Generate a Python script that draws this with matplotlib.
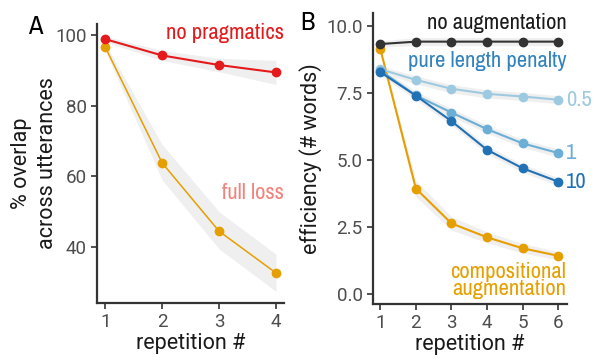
import numpy as np
import matplotlib.pyplot as plt
from matplotlib import font_manager

# look for a condensed face for the in-plot labels, else Roboto
cond = 'Roboto'
for f in font_manager.fontManager.ttflist:
    if ('Condensed' in f.name or 'Narrow' in f.name) and f.style == 'normal':
        cond = f.name
        break

''' data, panel A '''
repA = [1, 2, 3, 4]
no_prag = [98.8, 94.2, 91.5, 89.4]
no_prag_lo = [98.0, 92.8, 89.6, 86.0]
no_prag_hi = [99.6, 95.6, 93.4, 92.8]
full_loss = [96.5, 63.8, 44.5, 32.7]
full_loss_lo = [95.5, 59.0, 39.5, 27.5]
full_loss_hi = [97.5, 69.0, 50.0, 38.0]

''' data, panel B '''
repB = [1, 2, 3, 4, 5, 6]
no_aug = [9.34, 9.43, 9.43, 9.43, 9.43, 9.43]
pen_05 = [8.40, 8.00, 7.67, 7.48, 7.38, 7.26]
pen_1 = [8.35, 7.42, 6.78, 6.16, 5.63, 5.27]
pen_10 = [8.29, 7.41, 6.46, 5.39, 4.70, 4.20]
comp_aug = [9.15, 3.94, 2.64, 2.12, 1.71, 1.43]
band_B = [0.12, 0.15, 0.15, 0.15, 0.15, 0.15]
band_comp = [0.1, 0.3, 0.25, 0.2, 0.18, 0.15]

tick_col = '#4d4d4d'
axis_col = '#333333'
band_col = '#efefef'
ann = 16.3

plt.rcParams['font.family'] = 'Roboto'
fig = plt.figure(figsize=(5.94, 3.58), dpi=100)
axA = fig.add_axes([0.1633, 0.1536, 0.3147, 0.7794])
axB = fig.add_axes([0.628, 0.151, 0.3265, 0.8127])

for ax in (axA, axB):
    ax.spines['top'].set_visible(False)
    ax.spines['right'].set_visible(False)
    for s in ('left', 'bottom'):
        ax.spines[s].set_color(axis_col)
        ax.spines[s].set_linewidth(1.6)
    ax.tick_params(colors=axis_col, labelcolor=tick_col, labelsize=13.5,
                   length=4, width=1.2)
    ax.set_xlabel('repetition #', fontsize=15.5, color='#1a1a1a', labelpad=1)

''' Panel A '''
axA.fill_between(repA, no_prag_lo, no_prag_hi, color=band_col, lw=0, zorder=1)
axA.fill_between(repA, full_loss_lo, full_loss_hi, color=band_col, lw=0, zorder=1)
axA.plot(repA, full_loss, 'o-', color='#e69f00', lw=1.1, ms=6, zorder=3)
axA.plot(repA, no_prag, 'o-', color='#e41a1c', lw=1.5, ms=6, zorder=4)
axA.set_xlim(0.854, 4.14)
axA.set_ylim(24.2, 103.1)
axA.set_xticks(repA)
axA.set_yticks([40, 60, 80, 100])
axA.set_ylabel('% overlap\nacross utterances', fontsize=15.5, color='#1a1a1a',
               linespacing=1.3, labelpad=-2)
axA.text(4.14, 100.5, 'no pragmatics', color='#e41a1c', fontsize=ann,
         family=cond, ha='right', va='center', clip_on=False)
axA.text(4.14, 55.3, 'full loss', color='#f4827c', fontsize=ann,
         family=cond, ha='right', va='center', clip_on=False)
fig.text(0.047, 0.927, 'A', fontsize=19, family=cond, ha='left', va='center')

''' Panel B '''
series = [(no_aug, '#333333'), (pen_05, '#9ecae1'), (pen_1, '#6baed6'),
          (pen_10, '#2171b5')]
for vals, c in series:
    v = np.array(vals)
    axB.fill_between(repB, v - band_B, v + band_B, color=band_col, lw=0, zorder=1)
c = np.array(comp_aug)
axB.fill_between(repB, c - band_comp, c + band_comp, color=band_col, lw=0, zorder=1)
axB.plot(repB, comp_aug, 'o-', color='#e69f00', lw=1.5, ms=6, zorder=3)
for vals, col in series:
    axB.plot(repB, vals, 'o-', color=col, lw=1.5, ms=6, zorder=4)
axB.set_xlim(0.794, 6.25)
axB.set_ylim(-0.37, 10.5)
axB.set_xticks(repB)
axB.set_yticks([0, 2.5, 5, 7.5, 10])
axB.set_yticklabels(['0.0', '2.5', '5.0', '7.5', '10.0'])
axB.set_ylabel('efficiency (# words)', fontsize=15.5, color='#1a1a1a', labelpad=3)

lab = dict(fontsize=ann, family=cond, va='center', clip_on=False)
axB.text(6.25, 10.12, 'no augmentation', color='#1a1a1a', ha='right', **lab)
axB.text(6.25, 8.69, 'pure length penalty', color='#3182bd', ha='right', **lab)
axB.text(6.23, 7.26, '0.5', color='#9ecae1', ha='left', **lab)
axB.text(6.23, 5.27, '1', color='#6baed6', ha='left', **lab)
axB.text(6.23, 4.20, '10', color='#2171b5', ha='left', **lab)
axB.text(6.22, 0.5, 'compositional\naugmentation', color='#e69f00', ha='right',
         multialignment='right', linespacing=0.85, **lab)
fig.text(0.505, 0.936, 'B', fontsize=19, family=cond, ha='left', va='center')

fig.savefig('out.png', dpi=100)
